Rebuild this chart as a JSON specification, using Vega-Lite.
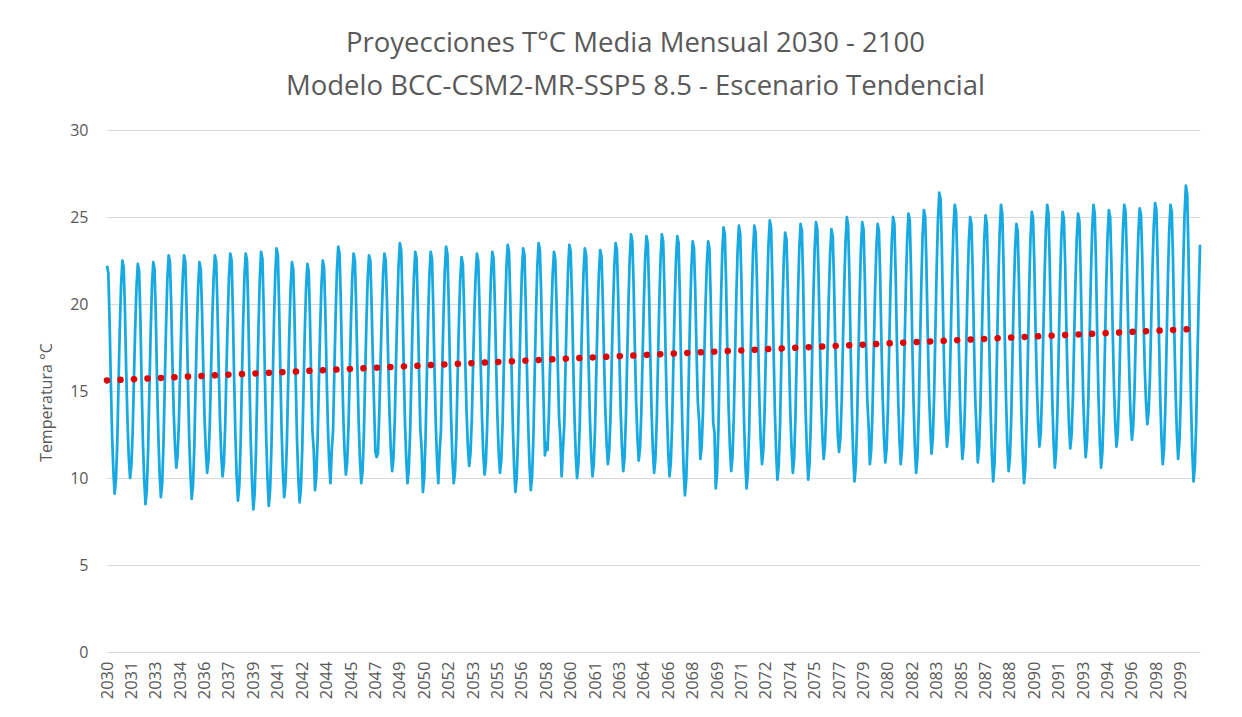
{
"$schema": "https://vega.github.io/schema/vega-lite/v6.json",
"width": 1093,
"height": 522,
"autosize": {"type": "none"},
"padding": {"left": 107, "top": 130, "right": 42, "bottom": 65},
"background": "white",
"config": {"font": "Open Sans", "view": {"stroke": null}, "axis": {"labelOverlap": false}, "axisX": {"labelOverlap": false}},
"title": {"text": ["Proyecciones T°C Media Mensual 2030 - 2100", "Modelo BCC-CSM2-MR-SSP5 8.5 - Escenario Tendencial"], "fontSize": 27.5, "fontWeight": "normal", "font": "Open Sans", "color": "#595959", "lineHeight": 43, "anchor": "middle", "frame": "group", "dx": -18, "dy": 32, "baseline": "bottom", "offset": 26},
"data": {"format": {"parse": {"d": "date"}}, "values": [
{"d":"2030-01","v":22.2},{"d":"2030-02","v":21.8},{"d":"2030-03","v":19.3},{"d":"2030-04","v":15.6},{"d":"2030-05","v":12.5},{"d":"2030-06","v":10.4},{"d":"2030-07","v":9.1},{"d":"2030-08","v":9.9},{"d":"2030-09","v":12.0},{"d":"2030-10","v":15.4},{"d":"2030-11","v":18.7},{"d":"2030-12","v":21.1},
{"d":"2031-01","v":22.5},{"d":"2031-02","v":22.1},{"d":"2031-03","v":19.8},{"d":"2031-04","v":16.2},{"d":"2031-05","v":13.3},{"d":"2031-06","v":11.2},{"d":"2031-07","v":10.0},{"d":"2031-08","v":10.7},{"d":"2031-09","v":12.6},{"d":"2031-10","v":15.7},{"d":"2031-11","v":18.7},{"d":"2031-12","v":21.0},
{"d":"2032-01","v":22.3},{"d":"2032-02","v":21.9},{"d":"2032-03","v":19.3},{"d":"2032-04","v":15.4},{"d":"2032-05","v":12.1},{"d":"2032-06","v":9.9},{"d":"2032-07","v":8.5},{"d":"2032-08","v":9.3},{"d":"2032-09","v":11.6},{"d":"2032-10","v":15.0},{"d":"2032-11","v":18.4},{"d":"2032-12","v":21.0},
{"d":"2033-01","v":22.4},{"d":"2033-02","v":22.0},{"d":"2033-03","v":19.5},{"d":"2033-04","v":15.6},{"d":"2033-05","v":12.5},{"d":"2033-06","v":10.2},{"d":"2033-07","v":8.9},{"d":"2033-08","v":9.7},{"d":"2033-09","v":12.0},{"d":"2033-10","v":15.4},{"d":"2033-11","v":18.8},{"d":"2033-12","v":21.4},
{"d":"2034-01","v":22.8},{"d":"2034-02","v":22.4},{"d":"2034-03","v":20.1},{"d":"2034-04","v":16.6},{"d":"2034-05","v":13.8},{"d":"2034-06","v":11.8},{"d":"2034-07","v":10.6},{"d":"2034-08","v":11.3},{"d":"2034-09","v":13.2},{"d":"2034-10","v":16.2},{"d":"2034-11","v":19.3},{"d":"2034-12","v":21.5},
{"d":"2035-01","v":22.8},{"d":"2035-02","v":22.4},{"d":"2035-03","v":19.8},{"d":"2035-04","v":15.8},{"d":"2035-05","v":12.5},{"d":"2035-06","v":10.2},{"d":"2035-07","v":8.8},{"d":"2035-08","v":9.6},{"d":"2035-09","v":11.8},{"d":"2035-10","v":15.2},{"d":"2035-11","v":18.5},{"d":"2035-12","v":21.0},
{"d":"2036-01","v":22.4},{"d":"2036-02","v":22.0},{"d":"2036-03","v":19.7},{"d":"2036-04","v":16.3},{"d":"2036-05","v":13.4},{"d":"2036-06","v":11.5},{"d":"2036-07","v":10.3},{"d":"2036-08","v":11.0},{"d":"2036-09","v":13.0},{"d":"2036-10","v":16.1},{"d":"2036-11","v":19.2},{"d":"2036-12","v":21.5},
{"d":"2037-01","v":22.8},{"d":"2037-02","v":22.4},{"d":"2037-03","v":20.0},{"d":"2037-04","v":16.4},{"d":"2037-05","v":13.4},{"d":"2037-06","v":11.3},{"d":"2037-07","v":10.1},{"d":"2037-08","v":10.8},{"d":"2037-09","v":12.9},{"d":"2037-10","v":16.1},{"d":"2037-11","v":19.2},{"d":"2037-12","v":21.6},
{"d":"2038-01","v":22.9},{"d":"2038-02","v":22.5},{"d":"2038-03","v":19.8},{"d":"2038-04","v":15.8},{"d":"2038-05","v":12.5},{"d":"2038-06","v":10.1},{"d":"2038-07","v":8.7},{"d":"2038-08","v":9.5},{"d":"2038-09","v":11.8},{"d":"2038-10","v":15.4},{"d":"2038-11","v":18.9},{"d":"2038-12","v":21.5},
{"d":"2039-01","v":22.9},{"d":"2039-02","v":22.5},{"d":"2039-03","v":19.8},{"d":"2039-04","v":15.6},{"d":"2039-05","v":12.1},{"d":"2039-06","v":9.7},{"d":"2039-07","v":8.2},{"d":"2039-08","v":9.1},{"d":"2039-09","v":11.5},{"d":"2039-10","v":15.2},{"d":"2039-11","v":18.8},{"d":"2039-12","v":21.5},
{"d":"2040-01","v":23.0},{"d":"2040-02","v":22.6},{"d":"2040-03","v":19.9},{"d":"2040-04","v":15.7},{"d":"2040-05","v":12.3},{"d":"2040-06","v":9.9},{"d":"2040-07","v":8.4},{"d":"2040-08","v":9.3},{"d":"2040-09","v":11.7},{"d":"2040-10","v":15.4},{"d":"2040-11","v":19.0},{"d":"2040-12","v":21.7},
{"d":"2041-01","v":23.2},{"d":"2041-02","v":22.8},{"d":"2041-03","v":20.1},{"d":"2041-04","v":16.1},{"d":"2041-05","v":12.7},{"d":"2041-06","v":10.3},{"d":"2041-07","v":8.9},{"d":"2041-08","v":9.7},{"d":"2041-09","v":11.9},{"d":"2041-10","v":15.2},{"d":"2041-11","v":18.5},{"d":"2041-12","v":21.0},
{"d":"2042-01","v":22.4},{"d":"2042-02","v":22.0},{"d":"2042-03","v":19.4},{"d":"2042-04","v":15.5},{"d":"2042-05","v":12.2},{"d":"2042-06","v":10.0},{"d":"2042-07","v":8.6},{"d":"2042-08","v":9.4},{"d":"2042-09","v":11.6},{"d":"2042-10","v":15.0},{"d":"2042-11","v":18.4},{"d":"2042-12","v":20.9},
{"d":"2043-01","v":22.3},{"d":"2043-02","v":21.9},{"d":"2043-03","v":19.5},{"d":"2043-04","v":15.8},{"d":"2043-05","v":12.7},{"d":"2043-06","v":11.6},{"d":"2043-07","v":9.3},{"d":"2043-08","v":10.1},{"d":"2043-09","v":12.2},{"d":"2043-10","v":15.5},{"d":"2043-11","v":18.7},{"d":"2043-12","v":21.1},
{"d":"2044-01","v":22.5},{"d":"2044-02","v":22.1},{"d":"2044-03","v":19.7},{"d":"2044-04","v":16.0},{"d":"2044-05","v":13.0},{"d":"2044-06","v":10.9},{"d":"2044-07","v":9.7},{"d":"2044-08","v":11.6},{"d":"2044-09","v":12.7},{"d":"2044-10","v":16.1},{"d":"2044-11","v":19.4},{"d":"2044-12","v":21.9},
{"d":"2045-01","v":23.3},{"d":"2045-02","v":22.9},{"d":"2045-03","v":20.4},{"d":"2045-04","v":16.7},{"d":"2045-05","v":13.6},{"d":"2045-06","v":11.5},{"d":"2045-07","v":10.2},{"d":"2045-08","v":10.9},{"d":"2045-09","v":12.9},{"d":"2045-10","v":16.1},{"d":"2045-11","v":19.2},{"d":"2045-12","v":21.6},
{"d":"2046-01","v":22.9},{"d":"2046-02","v":22.5},{"d":"2046-03","v":20.0},{"d":"2046-04","v":16.3},{"d":"2046-05","v":13.2},{"d":"2046-06","v":11.0},{"d":"2046-07","v":9.7},{"d":"2046-08","v":10.4},{"d":"2046-09","v":12.5},{"d":"2046-10","v":15.8},{"d":"2046-11","v":19.0},{"d":"2046-12","v":21.5},
{"d":"2047-01","v":22.8},{"d":"2047-02","v":22.5},{"d":"2047-03","v":20.2},{"d":"2047-04","v":16.9},{"d":"2047-05","v":14.2},{"d":"2047-06","v":11.5},{"d":"2047-07","v":11.2},{"d":"2047-08","v":11.4},{"d":"2047-09","v":13.7},{"d":"2047-10","v":16.6},{"d":"2047-11","v":19.5},{"d":"2047-12","v":21.7},
{"d":"2048-01","v":22.9},{"d":"2048-02","v":22.5},{"d":"2048-03","v":20.2},{"d":"2048-04","v":16.6},{"d":"2048-05","v":13.7},{"d":"2048-06","v":11.6},{"d":"2048-07","v":10.4},{"d":"2048-08","v":11.1},{"d":"2048-09","v":13.2},{"d":"2048-10","v":16.5},{"d":"2048-11","v":19.7},{"d":"2048-12","v":22.2},
{"d":"2049-01","v":23.5},{"d":"2049-02","v":23.1},{"d":"2049-03","v":20.5},{"d":"2049-04","v":16.6},{"d":"2049-05","v":13.3},{"d":"2049-06","v":11.1},{"d":"2049-07","v":9.7},{"d":"2049-08","v":10.5},{"d":"2049-09","v":12.6},{"d":"2049-10","v":15.9},{"d":"2049-11","v":19.2},{"d":"2049-12","v":21.6},
{"d":"2050-01","v":23.0},{"d":"2050-02","v":22.6},{"d":"2050-03","v":20.0},{"d":"2050-04","v":16.1},{"d":"2050-05","v":12.8},{"d":"2050-06","v":11.7},{"d":"2050-07","v":9.2},{"d":"2050-08","v":10.0},{"d":"2050-09","v":12.2},{"d":"2050-10","v":15.7},{"d":"2050-11","v":19.1},{"d":"2050-12","v":21.6},
{"d":"2051-01","v":23.0},{"d":"2051-02","v":22.6},{"d":"2051-03","v":20.1},{"d":"2051-04","v":16.3},{"d":"2051-05","v":13.2},{"d":"2051-06","v":11.0},{"d":"2051-07","v":9.7},{"d":"2051-08","v":11.5},{"d":"2051-09","v":12.7},{"d":"2051-10","v":16.1},{"d":"2051-11","v":19.4},{"d":"2051-12","v":21.9},
{"d":"2052-01","v":23.3},{"d":"2052-02","v":22.9},{"d":"2052-03","v":20.4},{"d":"2052-04","v":16.5},{"d":"2052-05","v":13.3},{"d":"2052-06","v":11.0},{"d":"2052-07","v":9.7},{"d":"2052-08","v":10.4},{"d":"2052-09","v":12.5},{"d":"2052-10","v":15.8},{"d":"2052-11","v":19.0},{"d":"2052-12","v":21.4},
{"d":"2053-01","v":22.7},{"d":"2053-02","v":22.3},{"d":"2053-03","v":20.0},{"d":"2053-04","v":16.6},{"d":"2053-05","v":13.8},{"d":"2053-06","v":11.8},{"d":"2053-07","v":10.7},{"d":"2053-08","v":11.4},{"d":"2053-09","v":13.3},{"d":"2053-10","v":16.3},{"d":"2053-11","v":19.4},{"d":"2053-12","v":21.6},
{"d":"2054-01","v":22.9},{"d":"2054-02","v":22.5},{"d":"2054-03","v":20.1},{"d":"2054-04","v":16.5},{"d":"2054-05","v":13.5},{"d":"2054-06","v":11.4},{"d":"2054-07","v":10.2},{"d":"2054-08","v":10.9},{"d":"2054-09","v":13.0},{"d":"2054-10","v":16.2},{"d":"2054-11","v":19.3},{"d":"2054-12","v":21.7},
{"d":"2055-01","v":23.0},{"d":"2055-02","v":22.6},{"d":"2055-03","v":20.2},{"d":"2055-04","v":16.6},{"d":"2055-05","v":13.6},{"d":"2055-06","v":11.5},{"d":"2055-07","v":10.3},{"d":"2055-08","v":11.0},{"d":"2055-09","v":13.1},{"d":"2055-10","v":16.4},{"d":"2055-11","v":19.6},{"d":"2055-12","v":22.1},
{"d":"2056-01","v":23.4},{"d":"2056-02","v":23.0},{"d":"2056-03","v":20.3},{"d":"2056-04","v":16.3},{"d":"2056-05","v":13.0},{"d":"2056-06","v":10.6},{"d":"2056-07","v":9.2},{"d":"2056-08","v":10.0},{"d":"2056-09","v":12.3},{"d":"2056-10","v":15.8},{"d":"2056-11","v":19.2},{"d":"2056-12","v":21.8},
{"d":"2057-01","v":23.2},{"d":"2057-02","v":22.8},{"d":"2057-03","v":20.2},{"d":"2057-04","v":16.2},{"d":"2057-05","v":13.0},{"d":"2057-06","v":10.7},{"d":"2057-07","v":9.3},{"d":"2057-08","v":10.1},{"d":"2057-09","v":12.4},{"d":"2057-10","v":16.0},{"d":"2057-11","v":19.4},{"d":"2057-12","v":22.1},
{"d":"2058-01","v":23.5},{"d":"2058-02","v":23.1},{"d":"2058-03","v":20.8},{"d":"2058-04","v":17.2},{"d":"2058-05","v":14.3},{"d":"2058-06","v":11.3},{"d":"2058-07","v":12.0},{"d":"2058-08","v":11.6},{"d":"2058-09","v":13.5},{"d":"2058-10","v":16.5},{"d":"2058-11","v":19.5},{"d":"2058-12","v":21.7},
{"d":"2059-01","v":23.0},{"d":"2059-02","v":22.6},{"d":"2059-03","v":20.2},{"d":"2059-04","v":16.5},{"d":"2059-05","v":13.5},{"d":"2059-06","v":12.3},{"d":"2059-07","v":10.1},{"d":"2059-08","v":11.6},{"d":"2059-09","v":13.0},{"d":"2059-10","v":16.3},{"d":"2059-11","v":19.6},{"d":"2059-12","v":22.0},
{"d":"2060-01","v":23.4},{"d":"2060-02","v":23.0},{"d":"2060-03","v":20.5},{"d":"2060-04","v":16.7},{"d":"2060-05","v":13.5},{"d":"2060-06","v":11.3},{"d":"2060-07","v":10.0},{"d":"2060-08","v":10.8},{"d":"2060-09","v":12.9},{"d":"2060-10","v":16.2},{"d":"2060-11","v":19.4},{"d":"2060-12","v":21.8},
{"d":"2061-01","v":23.2},{"d":"2061-02","v":22.8},{"d":"2061-03","v":20.3},{"d":"2061-04","v":16.6},{"d":"2061-05","v":13.5},{"d":"2061-06","v":11.4},{"d":"2061-07","v":10.1},{"d":"2061-08","v":10.8},{"d":"2061-09","v":12.9},{"d":"2061-10","v":16.2},{"d":"2061-11","v":19.4},{"d":"2061-12","v":21.8},
{"d":"2062-01","v":23.1},{"d":"2062-02","v":22.7},{"d":"2062-03","v":20.4},{"d":"2062-04","v":16.9},{"d":"2062-05","v":14.0},{"d":"2062-06","v":12.0},{"d":"2062-07","v":10.8},{"d":"2062-08","v":11.5},{"d":"2062-09","v":13.5},{"d":"2062-10","v":16.7},{"d":"2062-11","v":19.8},{"d":"2062-12","v":22.2},
{"d":"2063-01","v":23.5},{"d":"2063-02","v":23.1},{"d":"2063-03","v":20.6},{"d":"2063-04","v":16.9},{"d":"2063-05","v":13.8},{"d":"2063-06","v":11.7},{"d":"2063-07","v":10.4},{"d":"2063-08","v":11.2},{"d":"2063-09","v":13.4},{"d":"2063-10","v":16.8},{"d":"2063-11","v":20.1},{"d":"2063-12","v":22.6},
{"d":"2064-01","v":24.0},{"d":"2064-02","v":23.6},{"d":"2064-03","v":21.2},{"d":"2064-04","v":17.5},{"d":"2064-05","v":14.4},{"d":"2064-06","v":12.3},{"d":"2064-07","v":11.0},{"d":"2064-08","v":11.7},{"d":"2064-09","v":13.8},{"d":"2064-10","v":17.0},{"d":"2064-11","v":20.2},{"d":"2064-12","v":22.6},
{"d":"2065-01","v":23.9},{"d":"2065-02","v":23.5},{"d":"2065-03","v":21.0},{"d":"2065-04","v":17.1},{"d":"2065-05","v":13.9},{"d":"2065-06","v":11.6},{"d":"2065-07","v":10.3},{"d":"2065-08","v":11.1},{"d":"2065-09","v":13.3},{"d":"2065-10","v":16.7},{"d":"2065-11","v":20.1},{"d":"2065-12","v":22.6},
{"d":"2066-01","v":24.0},{"d":"2066-02","v":23.6},{"d":"2066-03","v":21.0},{"d":"2066-04","v":17.0},{"d":"2066-05","v":13.8},{"d":"2066-06","v":11.5},{"d":"2066-07","v":10.1},{"d":"2066-08","v":10.9},{"d":"2066-09","v":13.1},{"d":"2066-10","v":16.6},{"d":"2066-11","v":20.0},{"d":"2066-12","v":22.5},
{"d":"2067-01","v":23.9},{"d":"2067-02","v":23.5},{"d":"2067-03","v":20.7},{"d":"2067-04","v":16.5},{"d":"2067-05","v":13.0},{"d":"2067-06","v":10.5},{"d":"2067-07","v":9.0},{"d":"2067-08","v":9.9},{"d":"2067-09","v":12.2},{"d":"2067-10","v":15.9},{"d":"2067-11","v":19.5},{"d":"2067-12","v":22.1},
{"d":"2068-01","v":23.6},{"d":"2068-02","v":23.2},{"d":"2068-03","v":20.9},{"d":"2068-04","v":17.3},{"d":"2068-05","v":14.4},{"d":"2068-06","v":13.3},{"d":"2068-07","v":11.1},{"d":"2068-08","v":11.8},{"d":"2068-09","v":13.8},{"d":"2068-10","v":16.9},{"d":"2068-11","v":20.0},{"d":"2068-12","v":22.3},
{"d":"2069-01","v":23.6},{"d":"2069-02","v":23.2},{"d":"2069-03","v":20.5},{"d":"2069-04","v":16.5},{"d":"2069-05","v":13.2},{"d":"2069-06","v":12.6},{"d":"2069-07","v":9.4},{"d":"2069-08","v":10.3},{"d":"2069-09","v":12.8},{"d":"2069-10","v":16.5},{"d":"2069-11","v":20.1},{"d":"2069-12","v":22.9},
{"d":"2070-01","v":24.4},{"d":"2070-02","v":24.0},{"d":"2070-03","v":21.4},{"d":"2070-04","v":17.4},{"d":"2070-05","v":14.1},{"d":"2070-06","v":11.8},{"d":"2070-07","v":10.4},{"d":"2070-08","v":11.2},{"d":"2070-09","v":13.5},{"d":"2070-10","v":17.0},{"d":"2070-11","v":20.5},{"d":"2070-12","v":23.1},
{"d":"2071-01","v":24.5},{"d":"2071-02","v":24.0},{"d":"2071-03","v":21.3},{"d":"2071-04","v":17.0},{"d":"2071-05","v":13.4},{"d":"2071-06","v":10.9},{"d":"2071-07","v":9.4},{"d":"2071-08","v":10.3},{"d":"2071-09","v":12.8},{"d":"2071-10","v":16.6},{"d":"2071-11","v":20.2},{"d":"2071-12","v":23.0},
{"d":"2072-01","v":24.5},{"d":"2072-02","v":24.1},{"d":"2072-03","v":21.5},{"d":"2072-04","v":17.6},{"d":"2072-05","v":14.4},{"d":"2072-06","v":12.1},{"d":"2072-07","v":10.8},{"d":"2072-08","v":11.6},{"d":"2072-09","v":13.9},{"d":"2072-10","v":17.4},{"d":"2072-11","v":20.8},{"d":"2072-12","v":23.4},
{"d":"2073-01","v":24.8},{"d":"2073-02","v":24.4},{"d":"2073-03","v":21.6},{"d":"2073-04","v":17.4},{"d":"2073-05","v":13.9},{"d":"2073-06","v":11.4},{"d":"2073-07","v":9.9},{"d":"2073-08","v":10.7},{"d":"2073-09","v":13.0},{"d":"2073-10","v":16.6},{"d":"2073-11","v":20.1},{"d":"2073-12","v":22.7},
{"d":"2074-01","v":24.1},{"d":"2074-02","v":23.7},{"d":"2074-03","v":21.1},{"d":"2074-04","v":17.2},{"d":"2074-05","v":13.9},{"d":"2074-06","v":11.7},{"d":"2074-07","v":10.3},{"d":"2074-08","v":11.1},{"d":"2074-09","v":13.5},{"d":"2074-10","v":17.0},{"d":"2074-11","v":20.5},{"d":"2074-12","v":23.2},
{"d":"2075-01","v":24.6},{"d":"2075-02","v":24.2},{"d":"2075-03","v":21.5},{"d":"2075-04","v":17.3},{"d":"2075-05","v":13.8},{"d":"2075-06","v":11.4},{"d":"2075-07","v":9.9},{"d":"2075-08","v":10.8},{"d":"2075-09","v":13.2},{"d":"2075-10","v":16.9},{"d":"2075-11","v":20.5},{"d":"2075-12","v":23.2},
{"d":"2076-01","v":24.7},{"d":"2076-02","v":24.3},{"d":"2076-03","v":21.8},{"d":"2076-04","v":17.9},{"d":"2076-05","v":14.7},{"d":"2076-06","v":12.4},{"d":"2076-07","v":11.1},{"d":"2076-08","v":11.9},{"d":"2076-09","v":14.0},{"d":"2076-10","v":17.3},{"d":"2076-11","v":20.5},{"d":"2076-12","v":22.9},
{"d":"2077-01","v":24.3},{"d":"2077-02","v":23.9},{"d":"2077-03","v":21.5},{"d":"2077-04","v":17.8},{"d":"2077-05","v":14.8},{"d":"2077-06","v":12.4},{"d":"2077-07","v":11.5},{"d":"2077-08","v":12.3},{"d":"2077-09","v":14.4},{"d":"2077-10","v":17.8},{"d":"2077-11","v":21.1},{"d":"2077-12","v":23.6},
{"d":"2078-01","v":25.0},{"d":"2078-02","v":24.5},{"d":"2078-03","v":21.8},{"d":"2078-04","v":17.5},{"d":"2078-05","v":13.9},{"d":"2078-06","v":11.3},{"d":"2078-07","v":9.8},{"d":"2078-08","v":10.7},{"d":"2078-09","v":13.1},{"d":"2078-10","v":16.8},{"d":"2078-11","v":20.5},{"d":"2078-12","v":23.2},
{"d":"2079-01","v":24.7},{"d":"2079-02","v":24.3},{"d":"2079-03","v":21.7},{"d":"2079-04","v":17.7},{"d":"2079-05","v":14.5},{"d":"2079-06","v":13.0},{"d":"2079-07","v":10.8},{"d":"2079-08","v":11.6},{"d":"2079-09","v":13.8},{"d":"2079-10","v":17.3},{"d":"2079-11","v":20.7},{"d":"2079-12","v":23.2},
{"d":"2080-01","v":24.6},{"d":"2080-02","v":24.2},{"d":"2080-03","v":21.6},{"d":"2080-04","v":17.7},{"d":"2080-05","v":14.5},{"d":"2080-06","v":12.2},{"d":"2080-07","v":10.9},{"d":"2080-08","v":11.7},{"d":"2080-09","v":14.0},{"d":"2080-10","v":17.5},{"d":"2080-11","v":21.0},{"d":"2080-12","v":23.6},
{"d":"2081-01","v":25.0},{"d":"2081-02","v":24.6},{"d":"2081-03","v":21.9},{"d":"2081-04","v":17.9},{"d":"2081-05","v":14.6},{"d":"2081-06","v":12.2},{"d":"2081-07","v":10.8},{"d":"2081-08","v":11.7},{"d":"2081-09","v":14.0},{"d":"2081-10","v":17.6},{"d":"2081-11","v":21.1},{"d":"2081-12","v":23.7},
{"d":"2082-01","v":25.2},{"d":"2082-02","v":24.8},{"d":"2082-03","v":22.0},{"d":"2082-04","v":17.8},{"d":"2082-05","v":14.3},{"d":"2082-06","v":11.8},{"d":"2082-07","v":10.3},{"d":"2082-08","v":11.2},{"d":"2082-09","v":13.7},{"d":"2082-10","v":17.5},{"d":"2082-11","v":21.1},{"d":"2082-12","v":23.9},
{"d":"2083-01","v":25.4},{"d":"2083-02","v":25.0},{"d":"2083-03","v":22.4},{"d":"2083-04","v":18.4},{"d":"2083-05","v":15.1},{"d":"2083-06","v":12.9},{"d":"2083-07","v":11.4},{"d":"2083-08","v":12.3},{"d":"2083-09","v":14.8},{"d":"2083-10","v":18.5},{"d":"2083-11","v":22.2},{"d":"2083-12","v":24.9},
{"d":"2084-01","v":26.4},{"d":"2084-02","v":26.0},{"d":"2084-03","v":23.3},{"d":"2084-04","v":19.1},{"d":"2084-05","v":15.7},{"d":"2084-06","v":13.3},{"d":"2084-07","v":11.8},{"d":"2084-08","v":12.6},{"d":"2084-09","v":14.9},{"d":"2084-10","v":18.3},{"d":"2084-11","v":21.7},{"d":"2084-12","v":24.3},
{"d":"2085-01","v":25.7},{"d":"2085-02","v":25.3},{"d":"2085-03","v":22.6},{"d":"2085-04","v":18.4},{"d":"2085-05","v":15.0},{"d":"2085-06","v":12.6},{"d":"2085-07","v":11.1},{"d":"2085-08","v":11.9},{"d":"2085-09","v":14.2},{"d":"2085-10","v":17.6},{"d":"2085-11","v":21.0},{"d":"2085-12","v":23.6},
{"d":"2086-01","v":25.0},{"d":"2086-02","v":24.6},{"d":"2086-03","v":22.0},{"d":"2086-04","v":18.0},{"d":"2086-05","v":14.6},{"d":"2086-06","v":12.8},{"d":"2086-07","v":10.9},{"d":"2086-08","v":11.7},{"d":"2086-09","v":14.0},{"d":"2086-10","v":17.6},{"d":"2086-11","v":21.0},{"d":"2086-12","v":23.7},
{"d":"2087-01","v":25.1},{"d":"2087-02","v":24.6},{"d":"2087-03","v":21.9},{"d":"2087-04","v":17.5},{"d":"2087-05","v":13.9},{"d":"2087-06","v":11.3},{"d":"2087-07","v":9.8},{"d":"2087-08","v":10.8},{"d":"2087-09","v":13.4},{"d":"2087-10","v":17.4},{"d":"2087-11","v":21.2},{"d":"2087-12","v":24.1},
{"d":"2088-01","v":25.7},{"d":"2088-02","v":25.2},{"d":"2088-03","v":22.5},{"d":"2088-04","v":18.1},{"d":"2088-05","v":14.5},{"d":"2088-06","v":11.9},{"d":"2088-07","v":10.4},{"d":"2088-08","v":11.2},{"d":"2088-09","v":13.5},{"d":"2088-10","v":17.1},{"d":"2088-11","v":20.6},{"d":"2088-12","v":23.2},
{"d":"2089-01","v":24.6},{"d":"2089-02","v":24.2},{"d":"2089-03","v":21.4},{"d":"2089-04","v":17.2},{"d":"2089-05","v":13.7},{"d":"2089-06","v":11.2},{"d":"2089-07","v":9.7},{"d":"2089-08","v":10.6},{"d":"2089-09","v":13.2},{"d":"2089-10","v":17.1},{"d":"2089-11","v":20.9},{"d":"2089-12","v":23.8},
{"d":"2090-01","v":25.3},{"d":"2090-02","v":24.9},{"d":"2090-03","v":22.4},{"d":"2090-04","v":18.5},{"d":"2090-05","v":15.4},{"d":"2090-06","v":13.1},{"d":"2090-07","v":11.8},{"d":"2090-08","v":12.6},{"d":"2090-09","v":14.9},{"d":"2090-10","v":18.3},{"d":"2090-11","v":21.7},{"d":"2090-12","v":24.3},
{"d":"2091-01","v":25.7},{"d":"2091-02","v":25.2},{"d":"2091-03","v":22.5},{"d":"2091-04","v":18.2},{"d":"2091-05","v":14.6},{"d":"2091-06","v":12.1},{"d":"2091-07","v":10.6},{"d":"2091-08","v":11.5},{"d":"2091-09","v":13.9},{"d":"2091-10","v":17.5},{"d":"2091-11","v":21.1},{"d":"2091-12","v":23.8},
{"d":"2092-01","v":25.3},{"d":"2092-02","v":24.9},{"d":"2092-03","v":22.4},{"d":"2092-04","v":18.5},{"d":"2092-05","v":15.3},{"d":"2092-06","v":13.0},{"d":"2092-07","v":11.7},{"d":"2092-08","v":12.5},{"d":"2092-09","v":14.6},{"d":"2092-10","v":18.0},{"d":"2092-11","v":21.3},{"d":"2092-12","v":23.8},
{"d":"2093-01","v":25.2},{"d":"2093-02","v":24.8},{"d":"2093-03","v":22.2},{"d":"2093-04","v":18.2},{"d":"2093-05","v":14.9},{"d":"2093-06","v":12.6},{"d":"2093-07","v":11.2},{"d":"2093-08","v":12.1},{"d":"2093-09","v":14.4},{"d":"2093-10","v":18.0},{"d":"2093-11","v":21.6},{"d":"2093-12","v":24.2},
{"d":"2094-01","v":25.7},{"d":"2094-02","v":25.2},{"d":"2094-03","v":22.5},{"d":"2094-04","v":18.2},{"d":"2094-05","v":14.6},{"d":"2094-06","v":12.1},{"d":"2094-07","v":10.6},{"d":"2094-08","v":11.5},{"d":"2094-09","v":13.9},{"d":"2094-10","v":17.6},{"d":"2094-11","v":21.2},{"d":"2094-12","v":23.9},
{"d":"2095-01","v":25.4},{"d":"2095-02","v":25.0},{"d":"2095-03","v":22.5},{"d":"2095-04","v":18.6},{"d":"2095-05","v":15.4},{"d":"2095-06","v":13.1},{"d":"2095-07","v":11.8},{"d":"2095-08","v":12.6},{"d":"2095-09","v":14.9},{"d":"2095-10","v":18.3},{"d":"2095-11","v":21.7},{"d":"2095-12","v":24.3},
{"d":"2096-01","v":25.7},{"d":"2096-02","v":25.3},{"d":"2096-03","v":22.8},{"d":"2096-04","v":18.9},{"d":"2096-05","v":15.8},{"d":"2096-06","v":13.5},{"d":"2096-07","v":12.2},{"d":"2096-08","v":13.0},{"d":"2096-09","v":15.1},{"d":"2096-10","v":18.4},{"d":"2096-11","v":21.7},{"d":"2096-12","v":24.1},
{"d":"2097-01","v":25.5},{"d":"2097-02","v":25.1},{"d":"2097-03","v":22.8},{"d":"2097-04","v":19.2},{"d":"2097-05","v":16.3},{"d":"2097-06","v":14.3},{"d":"2097-07","v":13.1},{"d":"2097-08","v":13.8},{"d":"2097-09","v":15.8},{"d":"2097-10","v":19.0},{"d":"2097-11","v":22.1},{"d":"2097-12","v":24.5},
{"d":"2098-01","v":25.8},{"d":"2098-02","v":25.4},{"d":"2098-03","v":22.6},{"d":"2098-04","v":18.4},{"d":"2098-05","v":14.8},{"d":"2098-06","v":12.3},{"d":"2098-07","v":10.8},{"d":"2098-08","v":11.7},{"d":"2098-09","v":14.1},{"d":"2098-10","v":17.8},{"d":"2098-11","v":21.5},{"d":"2098-12","v":24.2},
{"d":"2099-01","v":25.7},{"d":"2099-02","v":25.3},{"d":"2099-03","v":22.6},{"d":"2099-04","v":18.4},{"d":"2099-05","v":15.0},{"d":"2099-06","v":12.6},{"d":"2099-07","v":11.1},{"d":"2099-08","v":12.1},{"d":"2099-09","v":14.6},{"d":"2099-10","v":18.6},{"d":"2099-11","v":22.4},{"d":"2099-12","v":25.2},
{"d":"2100-01","v":26.8},{"d":"2100-02","v":26.3},{"d":"2100-03","v":23.2},{"d":"2100-04","v":18.5},{"d":"2100-05","v":14.4},{"d":"2100-06","v":11.5},{"d":"2100-07","v":9.8},{"d":"2100-08","v":10.7},{"d":"2100-09","v":13.1},{"d":"2100-10","v":16.8},{"d":"2100-11","v":20.4},{"d":"2100-12","v":23.4}
]},
"encoding": {
  "x": {"field": "d", "type": "temporal", "scale": {"type": "utc", "nice": false},
   "axis": {"title": null, "values": [
    {"year":2030,"month":1,"date":1,"utc":true},{"year":2031,"month":8,"date":1,"utc":true},{"year":2033,"month":3,"date":1,"utc":true},{"year":2034,"month":10,"date":1,"utc":true},{"year":2036,"month":5,"date":1,"utc":true},{"year":2037,"month":12,"date":1,"utc":true},{"year":2039,"month":7,"date":1,"utc":true},{"year":2041,"month":2,"date":1,"utc":true},{"year":2042,"month":9,"date":1,"utc":true},{"year":2044,"month":4,"date":1,"utc":true},{"year":2045,"month":11,"date":1,"utc":true},{"year":2047,"month":6,"date":1,"utc":true},{"year":2049,"month":1,"date":1,"utc":true},{"year":2050,"month":8,"date":1,"utc":true},{"year":2052,"month":3,"date":1,"utc":true},{"year":2053,"month":10,"date":1,"utc":true},{"year":2055,"month":5,"date":1,"utc":true},{"year":2056,"month":12,"date":1,"utc":true},{"year":2058,"month":7,"date":1,"utc":true},{"year":2060,"month":2,"date":1,"utc":true},{"year":2061,"month":9,"date":1,"utc":true},{"year":2063,"month":4,"date":1,"utc":true},{"year":2064,"month":11,"date":1,"utc":true},{"year":2066,"month":6,"date":1,"utc":true},{"year":2068,"month":1,"date":1,"utc":true},{"year":2069,"month":8,"date":1,"utc":true},{"year":2071,"month":3,"date":1,"utc":true},{"year":2072,"month":10,"date":1,"utc":true},{"year":2074,"month":5,"date":1,"utc":true},{"year":2075,"month":12,"date":1,"utc":true},{"year":2077,"month":7,"date":1,"utc":true},{"year":2079,"month":2,"date":1,"utc":true},{"year":2080,"month":9,"date":1,"utc":true},{"year":2082,"month":4,"date":1,"utc":true},{"year":2083,"month":11,"date":1,"utc":true},{"year":2085,"month":6,"date":1,"utc":true},{"year":2087,"month":1,"date":1,"utc":true},{"year":2088,"month":8,"date":1,"utc":true},{"year":2090,"month":3,"date":1,"utc":true},{"year":2091,"month":10,"date":1,"utc":true},{"year":2093,"month":5,"date":1,"utc":true},{"year":2094,"month":12,"date":1,"utc":true},{"year":2096,"month":7,"date":1,"utc":true},{"year":2098,"month":2,"date":1,"utc":true},{"year":2099,"month":9,"date":1,"utc":true}],
    "labelExpr": "utcFormat(datum.value, '%Y')", "labelAngle": -90, "labelAlign": "right", "labelBaseline": "middle", "labelFontSize": 16.5, "labelFont": "Open Sans", "labelColor": "#595959", "labelPadding": 9, "ticks": false, "tickSize": 0, "domain": false, "grid": false, "labelOverlap": false, "labelBound": false, "labelFlush": false, "labelSeparation": 0}},
  "y": {"field": "v", "type": "quantitative", "scale": {"domain": [0, 30], "nice": false, "zero": true},
   "axis": {"title": "Temperatura °C", "values": [0, 5, 10, 15, 20, 25, 30], "titleFont": "Open Sans", "titleFontSize": 16, "titleFontWeight": "normal", "titleColor": "#595959", "titleAngle": -90, "titleAlign": "center", "titleBaseline": "middle", "titleX": -61, "titleY": 272, "labelFont": "Open Sans", "labelFontSize": 16, "labelColor": "#595959", "labelPadding": 19, "ticks": false, "tickSize": 0, "domain": false, "grid": true, "gridColor": "#d9d9d9", "gridWidth": 1}}
},
"layer": [
{"mark": {"type": "line", "color": "#17a9e1", "strokeWidth": 2.75, "strokeJoin": "round"}},
{"transform": [{"regression": "v", "on": "d", "method": "linear"}],
 "mark": {"type": "line", "color": "#e00000", "strokeWidth": 6.5, "strokeCap": "round", "strokeDash": [0.01, 13.5]}}
]
}
